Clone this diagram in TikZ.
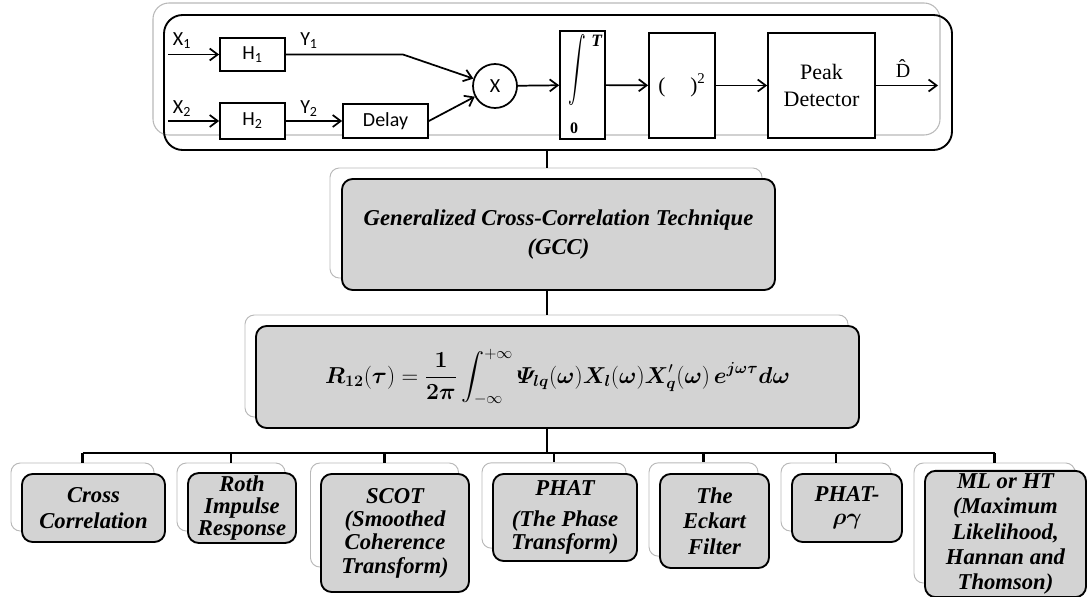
\documentclass[tikz,border=0pt]{standalone}
\usepackage{amsmath}
\usepackage{bm}
\usepackage{graphicx}
\usepackage[no-math]{fontspec}
\setmainfont{Liberation Serif}
\newfontfamily\calibri{Carlito}
\usetikzlibrary{arrows.meta,calc}

\definecolor{boxgray}{RGB}{211,211,211}
\definecolor{backline}{RGB}{185,185,185}

\newsavebox{\formulabox}

\begin{document}
\sbox{\formulabox}{\fontsize{17}{20}\selectfont
  $\displaystyle \bm{R}_{\mathbf{12}}(\bm{\tau})=\frac{\mathbf{1}}{\mathbf{2}\bm{\pi}}
  \int_{-\infty}^{+\infty}\bm{\varPsi}_{\bm{lq}}(\bm{\omega})\bm{X}_{\bm{l}}(\bm{\omega})
  \bm{X}^{\prime}_{\bm{q}}(\bm{\omega})\,\bm{e}^{\bm{j\omega\tau}}\bm{d\omega}$}%
\begin{tikzpicture}[x=0.75pt, y=-0.75pt,
    >={Straight Barb[length=6pt,width=9pt]},
    sig/.style={line width=1.3pt},
    blk/.style={draw, line width=1.3pt, fill=white, inner sep=0pt,
        font=\calibri\fontsize{15}{17}\selectfont},
    lbl/.style={font=\calibri\fontsize{15}{17}\selectfont, inner sep=1pt},
    bar/.style={line width=2.2pt},
    backbox/.style={draw=backline, fill=white, line width=0.7pt,
        rounded corners=7pt, inner sep=0pt},
    frontbox/.style={draw, fill=boxgray, line width=1.4pt,
        rounded corners=8pt, inner sep=2pt, align=center,
        font=\bfseries\itshape\fontsize{17}{19}\selectfont}]
    \useasboundingbox (0,0) rectangle (1088,596);

    % Top panel
    \node[draw=backline, line width=0.8pt, rounded corners=12pt,
        minimum width=590.25pt, minimum height=99pt] (topback) at (546.5,69) {};
    \node[draw, line width=1.4pt, rounded corners=14pt,
        minimum width=591pt, minimum height=101.25pt] (topfront) at (558,82.5) {};

    % Signal chain
    \coordinate (x1in) at (168,54.5);
    \coordinate (x2in) at (168,121);
    \coordinate (y1knee) at (403,54.5);
    \coordinate (dout) at (938,85.5);
    \node[blk, minimum width=48.75pt, minimum height=24.75pt] (h1) at (252.5,54.5) {H\textsubscript{1}};
    \node[blk, minimum width=48.75pt, minimum height=27pt] (h2) at (252.5,121) {H\textsubscript{2}};
    \node[blk, minimum width=63.75pt, minimum height=25.5pt] (delay) at (385.5,121) {Delay};
    \node[blk, circle, minimum size=33pt] (mult) at (495,86) {X};
    \node[blk, minimum width=33.75pt, minimum height=81pt] (integ) at (582.5,85) {};
    \node[blk, minimum width=49.5pt, minimum height=78.75pt,
        font=\fontsize{16}{18}\selectfont] (sq) at (682,85.5) {(\quad\,)\textsuperscript{2}};
    \node[blk, minimum width=80.25pt, minimum height=78.75pt, align=center,
        font=\fontsize{16.5}{20}\selectfont] (peak) at (821.5,85.5) {Peak\\Detector};

    \node (intsym) at (577,70) {\scalebox{1.1}[2]{\fontsize{12}{12}\selectfont$\displaystyle\int$}};
    \node[inner sep=0pt] (intT) at (597,41) {\fontsize{13}{13}\selectfont\textbf{\textit{T}}};
    \node[inner sep=0pt] (int0) at (574,128) {\fontsize{12}{12}\selectfont\textbf{0}};

    \node[lbl] (lx1) at (182,41) {X\textsubscript{1}};
    \node[lbl] (lx2) at (182,109) {X\textsubscript{2}};
    \node[lbl] (ly1) at (309,41) {Y\textsubscript{1}};
    \node[lbl] (ly2) at (309,109) {Y\textsubscript{2}};
    \node[inner sep=1pt, font=\fontsize{15}{17}\selectfont] (ld) at (903,69) {\^{D}};

    \draw[sig, ->] (x1in) -- (h1);
    \draw[sig, ->] (x2in) -- (h2);
    \draw[sig, ->] (h1) -- (y1knee) -- (mult);
    \draw[sig, ->] (h2) -- (delay);
    \draw[sig, ->] (delay.east) -- (mult);
    \draw[sig, ->] (mult) -- (integ);
    \draw[sig, ->] (integ) -- (sq);
    \draw[sig, ->] (sq) -- (peak);
    \draw[sig, ->] (peak) -- (dout);

    % Shadow boxes
    \node[backbox, minimum width=324pt, minimum height=82.5pt] (gccb) at (546,223) {};
    \node[backbox, minimum width=452.25pt, minimum height=76.5pt] (formb) at (546.5,366) {};
    \node[backbox, minimum width=107.25pt, minimum height=51pt] (ccb) at (82.5,497) {};
    \node[backbox, minimum width=81pt, minimum height=51pt] (rothb) at (231,497) {};
    \node[backbox, minimum width=111pt, minimum height=78pt] (scotb) at (384.5,515) {};
    \node[backbox, minimum width=108pt, minimum height=64pt] (phatb) at (554,505.5) {};
    \node[backbox, minimum width=81.75pt, minimum height=70pt] (eckb) at (703.5,509.5) {};
    \node[backbox, minimum width=82.5pt, minimum height=51pt] (prgb) at (836,497) {};
    \node[backbox, minimum width=120.75pt, minimum height=90pt] (mlb) at (994.5,523) {};

    % Tree connectors
    \coordinate (trunk) at (547,0);
    \coordinate (bus) at (547,453);
    \draw[bar] (topfront.south -| trunk) -- (gccb.north -| trunk);
    \draw[bar] (gccb.south -| trunk) -- (formb.north -| trunk);
    \draw[bar] (formb.south -| trunk) -- (bus);
    \draw[bar] (ccb.north |- bus) -- (mlb.north |- bus);
    \foreach \n in {ccb, rothb, scotb, phatb, eckb, prgb, mlb}
        \draw[bar] (\n.north |- bus) -- (\n.north);

    % Main boxes
    \node[frontbox, minimum width=324.75pt, minimum height=83.25pt] (gcc) at (558.5,234.5)
        {Generalized Cross-Correlation Technique\\[3pt](GCC)};
    \node[frontbox, minimum width=452.25pt, minimum height=76.5pt] (eqn) at (557.5,377)
        {\usebox{\formulabox}};

    % Methods
    \node[frontbox, minimum width=107.25pt, minimum height=51pt] (cc) at (93.5,508)
        {Cross\\Correlation};
    \node[frontbox, minimum width=81pt, minimum height=51pt,
        font=\bfseries\itshape\fontsize{17}{16.5}\selectfont] (roth) at (242,508)
        {Roth\\Impulse\\Response};
    \node[frontbox, minimum width=111pt, minimum height=88.5pt,
        font=\bfseries\itshape\fontsize{17}{17.5}\selectfont] (scot) at (395,533)
        {SCOT\\(Smoothed\\Coherence\\Transform)};
    \node[frontbox, minimum width=108pt, minimum height=65.25pt,
        font=\bfseries\itshape\fontsize{17}{17}\selectfont] (phat) at (565,517.5)
        {PHAT\\[6pt](The Phase\\Transform)};
    \node[frontbox, minimum width=81.75pt, minimum height=70.5pt] (eck) at (714.5,521)
        {The\\Eckart\\Filter};
    \node[frontbox, minimum width=82.5pt, minimum height=51pt,
        font=\bfseries\itshape\fontsize{17}{17}\selectfont] (prg) at (847,508)
        {PHAT-\\$\bm{\rho\gamma}$};
    \node[frontbox, minimum width=120.75pt, minimum height=90pt] (ml) at (1005.5,534)
        {ML or HT\\(Maximum\\Likelihood,\\Hannan and\\Thomson)};
\end{tikzpicture}
\end{document}
